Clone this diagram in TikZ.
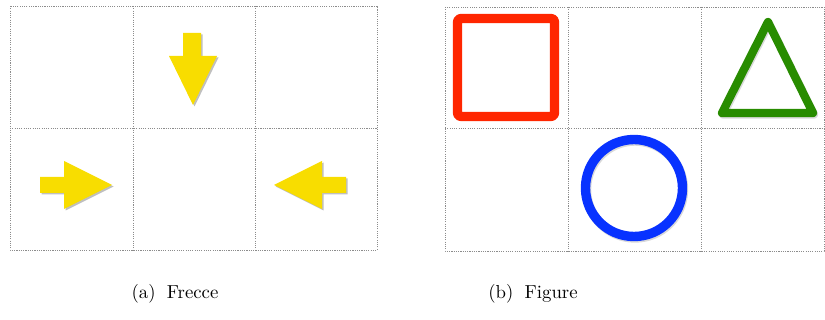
\documentclass[tikz,border=0pt]{standalone}
\usepackage{tikz}
\usetikzlibrary{shadows}

\definecolor{arrowyellow}{RGB}{248,221,0}
\definecolor{sqred}{RGB}{255,38,0}
\definecolor{trigreen}{RGB}{40,140,0}
\definecolor{circblue}{RGB}{8,50,255}

\begin{document}
\begin{tikzpicture}[x=0.532pt,y=-0.532pt,
  gridline/.style={draw=black!45,line width=0.5pt,dash pattern=on 0.6pt off 0.6pt},
  arrowshape/.style={fill=arrowyellow,drop shadow={shadow xshift=0.8pt,shadow yshift=-0.8pt,opacity=0.25,fill=black}},
  shapeline/.style={line width=#1,line join=round},
  shapeshade/.style={draw=black,opacity=0.15,line width=#1,line join=round,shift={(1,1.5)}},
  captext/.style={anchor=base,font=\normalsize,inner sep=0pt}]
\useasboundingbox (0,0) rectangle (825,320);
% (a) arrows
\draw[gridline] (10,6) rectangle (377,250);
\draw[gridline] (133,6) -- (133,250) (255,6) -- (255,250) (10,128) -- (377,128);
\fill[arrowshape] (183,33) -- (201,33) -- (201,56) -- (217,56) -- (193,105) -- (169,56) -- (183,56) -- cycle;
\fill[arrowshape] (40,177) -- (64,177) -- (64,161) -- (112,185) -- (64,209) -- (64,193) -- (40,193) -- cycle;
\fill[arrowshape] (346,177) -- (322,177) -- (322,161) -- (274,185) -- (322,209) -- (322,193) -- (346,193) -- cycle;
\node[captext] (capa) at (175,299) {(a)\hspace{6pt}Frecce};
% (b) shapes
\draw[gridline] (445,7) rectangle (824,251);
\draw[gridline] (568,7) -- (568,251) (701,7) -- (701,251) (445,128) -- (824,128);
\draw[shapeshade=4.4pt] (722,113) -- (768,22) -- (813,113) -- cycle;
\draw[shapeshade=5pt] (634,188) circle[radius=48.5];
\draw[sqred,shapeline=4.8pt,rounded corners=1.5pt] (457.5,18.5) rectangle (554.5,116.5);
\draw[trigreen,shapeline=4.4pt] (722,113) -- (768,22) -- (813,113) -- cycle;
\draw[circblue,shapeline=5pt] (634,188) circle[radius=48.5];
\node[captext] (capb) at (533,299) {(b)\hspace{6pt}Figure};
\end{tikzpicture}
\end{document}
